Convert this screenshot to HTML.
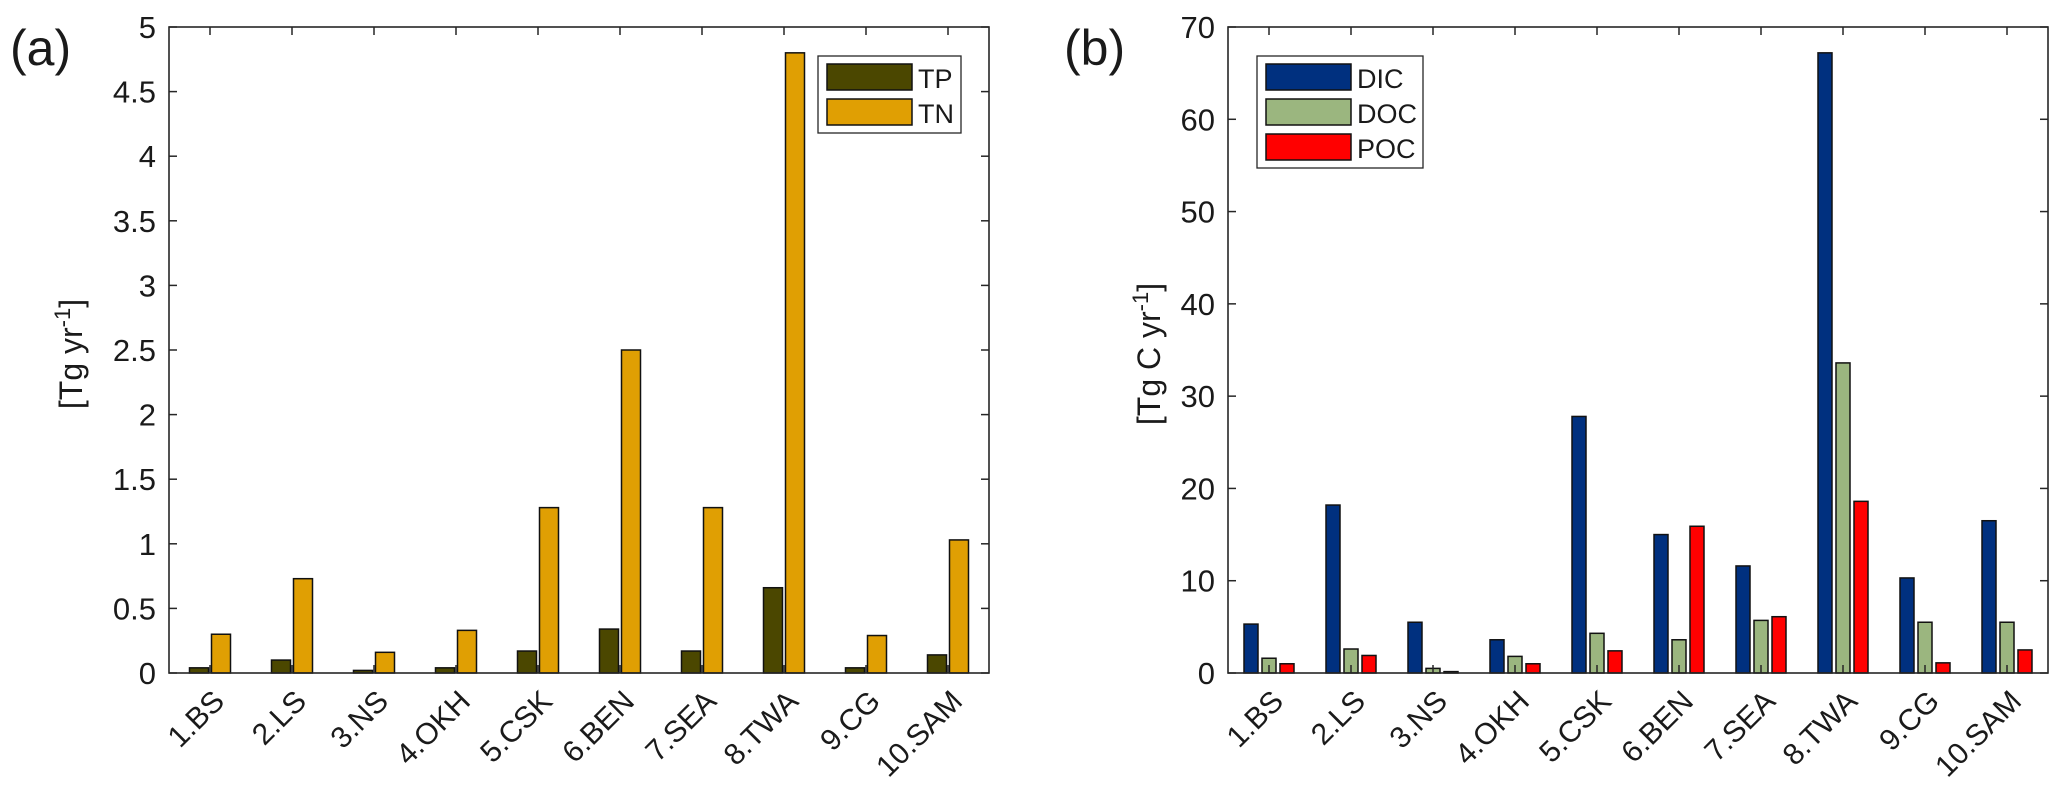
<!DOCTYPE html>
<html><head><meta charset="utf-8"><style>
html,body{margin:0;padding:0;background:#fff;}
svg{display:block;font-family:"Liberation Sans",Arial,sans-serif;}
</style></head><body>
<svg id="fig" width="2067" height="790" viewBox="0 0 2067 790" xmlns="http://www.w3.org/2000/svg"></svg>
<script>
const regions = ["1.BS","2.LS","3.NS","4.OKH","5.CSK","6.BEN","7.SEA","8.TWA","9.CG","10.SAM"];
const tpValues = [0.04,0.10,0.02,0.04,0.17,0.34,0.17,0.66,0.04,0.14];
const tnValues = [0.30,0.73,0.16,0.33,1.28,2.50,1.28,4.80,0.29,1.03];
const dicValues = [5.3,18.2,5.5,3.6,27.8,15.0,11.6,67.2,10.3,16.5];
const docValues = [1.6,2.6,0.5,1.8,4.3,3.6,5.7,33.6,5.5,5.5];
const pocValues = [1.0,1.9,0.15,1.0,2.4,15.9,6.1,18.6,1.1,2.5];
const ticksA = ["0","0.5","1","1.5","2","2.5","3","3.5","4","4.5","5"];
const ticksB = ["0","10","20","30","40","50","60","70"];

const NS="http://www.w3.org/2000/svg";
const svg=document.getElementById('fig');
function mk(tag,attrs,parent){const e=document.createElementNS(NS,tag);for(const k in attrs)e.setAttribute(k,attrs[k]);(parent||svg).appendChild(e);return e;}

function panel(cfg){
  const g=mk('g',{});
  
  
  const L=cfg.x0,R=cfg.x1,T=27,B=673;
  const ymax=cfg.ymax;
  const y=v=>B-(v/ymax)*(B-T);
  const step=(R-L)/regions.length;
  const xc=i=>L+step*(i+0.5);
  cfg.series.forEach((s,si)=>{
    s.values.forEach((v,i)=>{
      const cx=xc(i)+cfg.offsets[si];
      const r=mk('rect',{x:cx-cfg.bw/2,y:y(v),width:cfg.bw,height:B-y(v),fill:s.color,stroke:'#111','stroke-width':1.5},g);
      
      
    });
  });
  const box=mk('rect',{x:L,y:T,width:R-L,height:B-T,fill:'none',stroke:'#262626','stroke-width':1.6},g);
  
  
  cfg.ticks.forEach(t=>{
    const v=parseFloat(t),yy=y(v);
    mk('line',{x1:L,x2:L+8,y1:yy,y2:yy,stroke:'#262626','stroke-width':1.5},g);
    mk('line',{x1:R,x2:R-8,y1:yy,y2:yy,stroke:'#262626','stroke-width':1.5},g);
    const tx=mk('text',{x:L-13,y:yy+11,'text-anchor':'end','font-size':31,fill:'#1a1a1a'},g);
    tx.textContent=t;
    
    
  });
  regions.forEach((c,i)=>{
    const xx=xc(i);
    mk('line',{x1:xx,x2:xx,y1:B,y2:B-8,stroke:'#262626','stroke-width':1.5},g);
    mk('line',{x1:xx,x2:xx,y1:T,y2:T+8,stroke:'#262626','stroke-width':1.5},g);
    const tx=mk('text',{x:0,y:0,'text-anchor':'end','font-size':30,fill:'#1a1a1a',transform:`translate(${xx+16},${B+30}) rotate(-45)`},g);
    tx.textContent=c;
    
    
  });
  const yl=mk('text',{x:0,y:0,'text-anchor':'middle','font-size':32,fill:'#1a1a1a',transform:`translate(${cfg.ylx},354) rotate(-90)`},g);
  yl.innerHTML=cfg.ylabel;
  
  
  const pl=mk('text',{x:cfg.plx,y:65,'font-size':50,fill:'#1a1a1a'},g);
  pl.textContent=cfg.letter;
  
  
  const lg=mk('g',{},g);
  
  
  mk('rect',{x:cfg.lx,y:56,width:cfg.lw,height:cfg.series.length*35+7,fill:'#fff',stroke:'#262626','stroke-width':1.3},lg);
  cfg.series.forEach((s,si)=>{
    const yy=64+si*35;
    const sw=mk('rect',{x:cfg.lx+9,y:yy,width:85,height:26,fill:s.color,stroke:'#111','stroke-width':1.5},lg);
    
    
    const t=mk('text',{x:cfg.lx+100,y:yy+24,'font-size':27,fill:'#1a1a1a'},lg);
    t.textContent=s.label;
    
    
  });
}

panel({name:'panel-a-nutrients',x0:169,x1:989,ymax:5,ticks:ticksA,bw:19,offsets:[-11,11],
  series:[{key:'tp',label:'TP',color:'#4b4700',values:tpValues},{key:'tn',label:'TN',color:'#e09f03',values:tnValues}],
  ylabel:'[Tg yr<tspan dy="-12" font-size="22">-1</tspan><tspan dy="12">]</tspan>',ylx:82,plx:10,letter:'(a)',lx:818,lw:143});
panel({name:'panel-b-carbon',x0:1228,x1:2048,ymax:70,ticks:ticksB,bw:14,offsets:[-18,0,18],
  series:[{key:'dic',label:'DIC',color:'#00307f',values:dicValues},{key:'doc',label:'DOC',color:'#9bb67f',values:docValues},{key:'poc',label:'POC',color:'#ff0000',values:pocValues}],
  ylabel:'[Tg C yr<tspan dy="-12" font-size="22">-1</tspan><tspan dy="12">]</tspan>',ylx:1160,plx:1064,letter:'(b)',lx:1257,lw:166});
</script>
</body></html>
